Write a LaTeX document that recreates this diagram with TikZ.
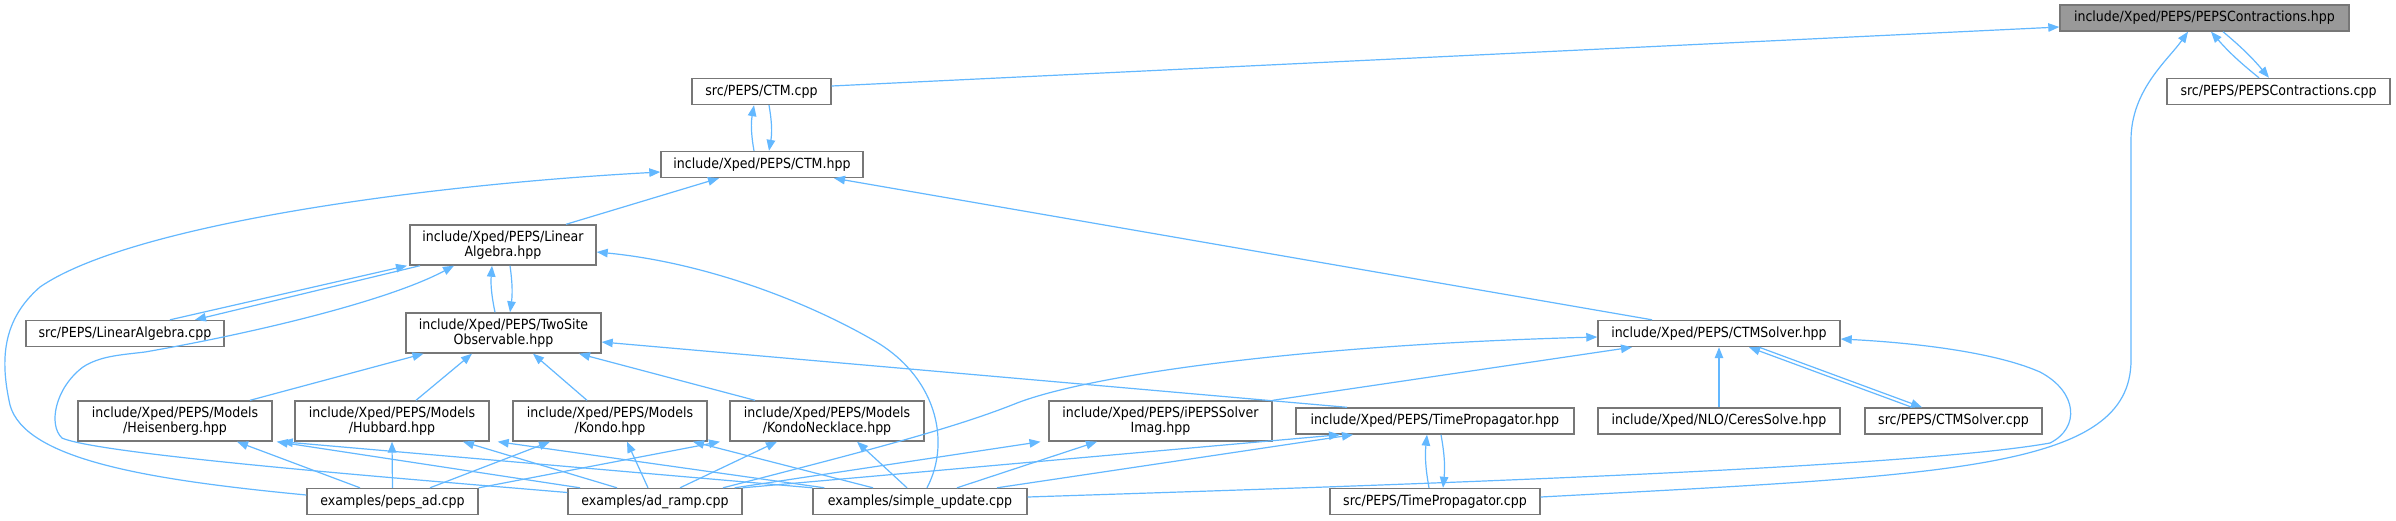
\documentclass[tikz,border=0pt]{standalone}
\usepackage{fontspec}
\setmainfont{DejaVu Sans Condensed}
\usetikzlibrary{arrows.meta,calc,positioning}
\definecolor{edgeblue}{HTML}{63B8FF}
\definecolor{boxgrey}{HTML}{777777}
\definecolor{rootfill}{HTML}{999999}

\begin{document}
\begin{tikzpicture}[
	x=1pt, y=-1pt,
	>={Triangle[length=11pt,width=8.5pt]},
	file/.style={draw=boxgrey, line width=1.4pt, fill=white, rectangle, inner sep=0pt, minimum height=26pt, align=center, font=\fontsize{14}{15}\selectfont},
	twoline/.style={file, minimum height=40pt},
	root/.style={file, fill=rootfill},
	dep/.style={->, edgeblue, line width=1.2pt}
	]
	\path[use as bounding box, fill=white] (0,0) rectangle (2396,520);
	
	\node[root, minimum width=289pt] (pepsh) at (2204.5,18) {include/Xped/PEPS/PEPSContractions.hpp};
	\node[file, minimum width=223pt] (pepscpp) at (2278.5,91.5) {src/PEPS/PEPSContractions.cpp};
	\node[file, minimum width=139pt] (ctmcpp) at (761.5,91.5) {src/PEPS/CTM.cpp};
	\node[file, minimum width=202pt] (ctmh) at (762,164.5) {include/Xped/PEPS/CTM.hpp};
	\node[twoline, minimum width=186pt] (linh) at (503,245) {include/Xped/PEPS/Linear\\Algebra.hpp};
	\node[file, minimum width=198pt] (lincpp) at (125,333.5) {src/PEPS/LinearAlgebra.cpp};
	\node[twoline, minimum width=195pt] (twoh) at (503.5,333) {include/Xped/PEPS/TwoSite\\Observable.hpp};
	\node[file, minimum width=242pt] (ctmsh) at (1719,333.5) {include/Xped/PEPS/CTMSolver.hpp};
	
	\node[twoline, minimum width=194pt] (heis) at (175,421) {include/Xped/PEPS/Models\\/Heisenberg.hpp};
	\node[twoline, minimum width=194pt] (hubb) at (392,421) {include/Xped/PEPS/Models\\/Hubbard.hpp};
	\node[twoline, minimum width=194pt] (kondo) at (610,421) {include/Xped/PEPS/Models\\/Kondo.hpp};
	\node[twoline, minimum width=194pt] (kneck) at (827,421) {include/Xped/PEPS/Models\\/KondoNecklace.hpp};
	\node[twoline, minimum width=223pt] (ipeps) at (1160.5,421) {include/Xped/PEPS/iPEPSSolver\\Imag.hpp};
	\node[file, minimum width=278pt] (tph) at (1435,421) {include/Xped/PEPS/TimePropagator.hpp};
	\node[file, minimum width=242pt] (ceres) at (1719,421) {include/Xped/NLO/CeresSolve.hpp};
	\node[file, minimum width=177pt] (ctmscpp) at (1953.5,421) {src/PEPS/CTMSolver.cpp};
	
	\node[file, minimum width=171pt] (pepsad) at (392.5,501.5) {examples/peps\_ad.cpp};
	\node[file, minimum width=174pt] (adramp) at (655,501.5) {examples/ad\_ramp.cpp};
	\node[file, minimum width=214pt] (simple) at (920,501.5) {examples/simple\_update.cpp};
	\node[file, minimum width=210pt] (tpcpp) at (1435,501.5) {src/PEPS/TimePropagator.cpp};
	
	% into PEPSContractions.hpp
	\draw[dep] ([yshift=5.5pt]ctmcpp.east) -- ([yshift=-9pt]pepsh.west);
	\draw[dep] ([xshift=-19.5pt]pepscpp.north) to[bend left=5] ([xshift=6.5pt]pepsh.south);
	\draw[dep] ([xshift=18.5pt]pepsh.south) to[bend left=5] ([xshift=-9.5pt]pepscpp.north);
	\draw[dep] ([yshift=4.5pt]tpcpp.east) .. controls (1950,475) and (2131,470) .. (2131,360)
		-- (2131,140) .. controls (2131,90) and (2168,60) .. ([xshift=-16.5pt]pepsh.south);
	
	% into CTM.hpp
	\draw[dep] ([xshift=-8pt]ctmh.north) to[bend left=10] ([xshift=-7.5pt]ctmcpp.south);
	\draw[dep] ([xshift=7.5pt]ctmcpp.south) to[bend left=10] ([xshift=7pt]ctmh.north);
	\draw[dep] ([xshift=63pt]linh.north) -- ([xshift=-43pt]ctmh.south);
	\draw[dep] ([xshift=-67pt]ctmsh.north) -- ([xshift=72pt]ctmh.south);
	\draw[dep] ([yshift=6.5pt]pepsad.west) .. controls (150,480) and (25,460) .. (10,405)
		.. controls (0,360) and (2,320) .. (40,287) .. controls (130,225) and (420,185) .. ([yshift=-7.5pt]ctmh.west);
	
	% into LinearAlgebra.hpp
	\draw[dep] ([xshift=45pt]lincpp.north) -- ([xshift=-96pt]linh.south);
	\draw[dep] ([xshift=-83pt]linh.south) -- ([xshift=70pt]lincpp.north);
	\draw[dep] ([xshift=-8.5pt]twoh.north) to[bend left=8] ([xshift=-11pt]linh.south);
	\draw[dep] ([xshift=7pt]linh.south) to[bend left=8] ([xshift=6.5pt]twoh.north);
	\draw[dep] ([yshift=9pt]adramp.west) .. controls (420,480) and (100,455) .. (62,438)
		.. controls (48,425) and (55,388) .. (83,367) .. controls (100,356) and (120,355) .. (145,352)
		.. controls (260,332) and (390,300) .. ([xshift=-49pt]linh.south);
	\draw[dep] ([xshift=7pt]simple.north) .. controls (952,440) and (935,375) .. (873,340)
		.. controls (800,298) and (700,262) .. ([yshift=-7pt]linh.east);
	
	% into TwoSiteObservable.hpp
	\draw[dep] ([xshift=75pt]heis.north) -- ([xshift=-80pt]twoh.south);
	\draw[dep] ([xshift=24pt]hubb.north) -- ([xshift=-31.5pt]twoh.south);
	\draw[dep] ([xshift=-23pt]kondo.north) -- ([xshift=29.5pt]twoh.south);
	\draw[dep] ([xshift=-72pt]kneck.north) -- ([xshift=75.5pt]twoh.south);
	\draw[dep] ([xshift=-88pt]tph.north) -- ([yshift=-9pt]twoh.east);
	
	% into the models
	\draw[dep] ([xshift=-32.5pt]pepsad.north) -- ([xshift=62pt]heis.south);
	\draw[dep] (pepsad.north) -- (hubb.south);
	\draw[dep] ([xshift=37.5pt]pepsad.north) -- ([xshift=-60pt]kondo.south);
	\draw[dep] (pepsad.north east) -- ([xshift=-107pt]kneck.south);
	\draw[dep] ([xshift=-75pt]adramp.north) -- ([xshift=4pt]heis.south east);
	\draw[dep] ([xshift=-38pt]adramp.north) -- ([xshift=71pt]hubb.south);
	\draw[dep] ([xshift=-7pt]adramp.north) -- ([xshift=17pt]kondo.south);
	\draw[dep] ([xshift=25pt]adramp.north) -- ([xshift=-50pt]kneck.south);
	\draw[dep] (simple.north west) -- ([xshift=9pt]heis.south east);
	\draw[dep] ([xshift=12pt]simple.north west) -- ([xshift=8pt]hubb.south east);
	\draw[dep] ([xshift=-47pt]simple.north) -- ([xshift=83pt]kondo.south);
	\draw[dep] ([xshift=-13pt]simple.north) -- ([xshift=30pt]kneck.south);
	
	% into CTMSolver.hpp
	\draw[dep] (ceres.north) -- (ctmsh.south);
	\draw[dep] ([xshift=-41.5pt]ctmscpp.north) -- ([xshift=30pt]ctmsh.south);
	\draw[dep] ([xshift=40pt]ctmsh.south) -- ([xshift=-31.5pt]ctmscpp.north);
	\draw[dep] (ipeps.north east) -- ([xshift=-87pt]ctmsh.south);
	\draw[dep] ([xshift=68pt]adramp.north) .. controls (850,455) and (950,430) .. (1017,403)
		.. controls (1090,375) and (1300,345) .. ([yshift=-3.5pt]ctmsh.west);
	\draw[dep] ([yshift=4.5pt]simple.east) .. controls (1300,488) and (1900,470) .. (2050,443)
		.. controls (2080,428) and (2078,392) .. (2040,372) .. controls (1990,350) and (1900,342) .. ([yshift=-5.5pt]ctmsh.east);
	
	% into iPEPSSolverImag.hpp and TimePropagator.hpp
	\draw[dep] ([xshift=-8pt]adramp.north east) -- ([xshift=-120pt]ipeps.south);
	\draw[dep] ([xshift=37pt]simple.north) -- ([xshift=-63.5pt]ipeps.south);
	\draw[dep] (adramp.north east) -- ([xshift=-95pt]tph.south);
	\draw[dep] ([xshift=77pt]simple.north) -- ([xshift=-82pt]tph.south);
	\draw[dep] ([xshift=-6pt]tpcpp.north) to[bend left=8] ([xshift=-8pt]tph.south);
	\draw[dep] ([xshift=6pt]tph.south) to[bend left=8] ([xshift=8pt]tpcpp.north);
\end{tikzpicture}
\end{document}
